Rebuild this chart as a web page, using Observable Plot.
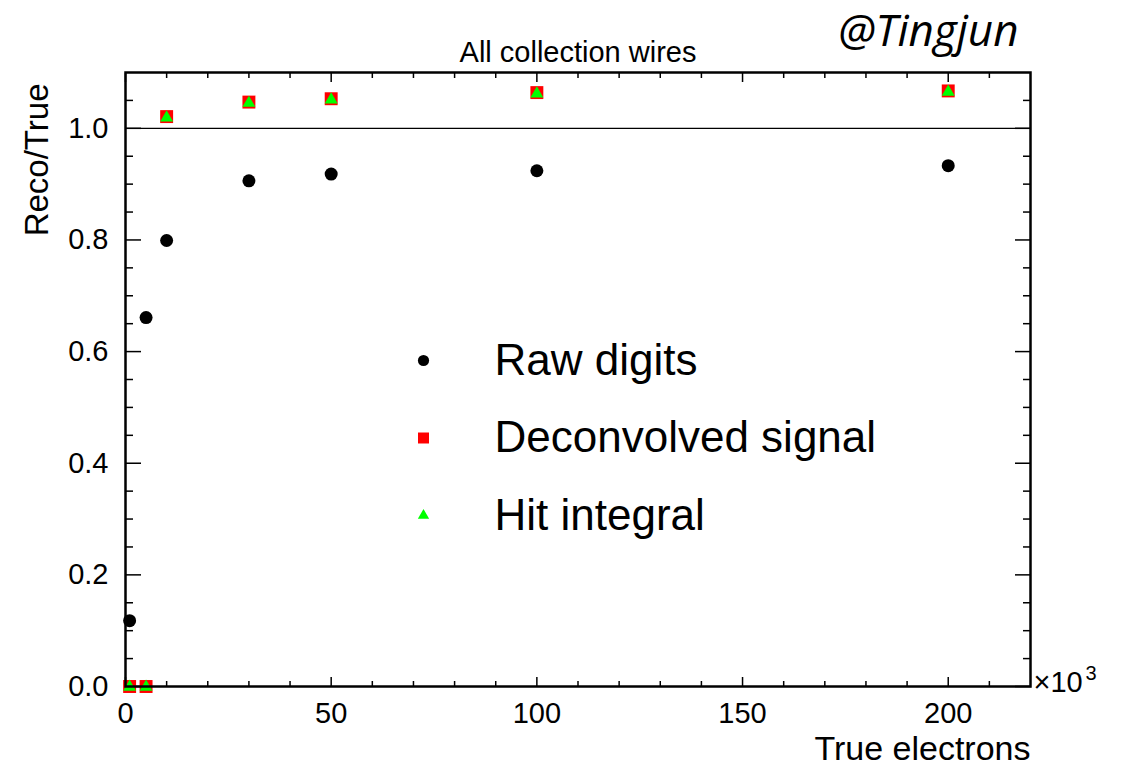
<!DOCTYPE html>
<html>
<head>
<meta charset="utf-8">
<script src="https://cdn.jsdelivr.net/npm/d3@7"></script>
<script src="https://cdn.jsdelivr.net/npm/@observablehq/plot@0.6"></script>
<style>
  html, body { margin: 0; padding: 0; background: #fff; }
  #chart { width: 1125px; height: 765px; }
</style>
</head>
<body>
<div id="chart"></div>
<script>
// ---- data ----
const trueElectrons = [1, 5, 10, 30, 50, 100, 200]; // x10^3
const rawDigits = [0.118, 0.661, 0.799, 0.906, 0.918, 0.924, 0.933];
const deconvolved = [0, 0, 1.021, 1.047, 1.053, 1.064, 1.067];
const hitIntegral = [0, 0, 1.020, 1.046, 1.052, 1.063, 1.066];

const xMajorTicks = [0, 50, 100, 150, 200];
const xMinorTicks = [10, 20, 30, 40, 60, 70, 80, 90, 110, 120, 130, 140, 160, 170, 180, 190, 210];
const yMajorTicks = [0, 0.2, 0.4, 0.6, 0.8, 1.0];
const yMinorTicks = [0.05, 0.1, 0.15, 0.25, 0.3, 0.35, 0.45, 0.5, 0.55, 0.65, 0.7, 0.75, 0.85, 0.9, 0.95, 1.05];

const legendLabels = ["Raw digits", "Deconvolved signal", "Hit integral"];

const rows = trueElectrons.map((x, i) => ({x, raw: rawDigits[i], dec: deconvolved[i], hit: hitIntegral[i]}));

const font = "'Liberation Sans', Arial, Helvetica, sans-serif";
const legendStyle = [
  {symbol: "circle", fill: "#000000", r: 5.6},
  {symbol: "square", fill: "#ff0000", r: 6.2},
  {symbol: "triangle", fill: "#00ff00", r: 4.2}
];
const legendDx = 298, legendDy0 = 288, legendStep = 77.5, legendTextDx = 369;

function ticks(anchor, values, len) {
  const o = {ticks: values, tickSize: len, text: null, label: null, strokeWidth: 1.5, stroke: "#000"};
  if (anchor === "bottom") return Plot.axisX({...o, anchor, insetBottom: len});
  if (anchor === "top") return Plot.axisX({...o, anchor, insetTop: len});
  if (anchor === "left") return Plot.axisY({...o, anchor, insetLeft: len});
  return Plot.axisY({...o, anchor, insetRight: len});
}

const chart = Plot.plot({
  width: 1125,
  height: 765,
  marginLeft: 125,
  marginRight: 95,
  marginTop: 72,
  marginBottom: 79,
  style: {fontFamily: font, background: "#fff", overflow: "visible"},
  x: {domain: [0, 220]},
  y: {domain: [0, 1.1]},
  marks: [
    Plot.ruleY([1], {stroke: "#000", strokeWidth: 1.2}),
    // inward ticks
    ticks("bottom", xMajorTicks, 9), ticks("bottom", xMinorTicks, 5),
    ticks("top", xMajorTicks, 9), ticks("top", xMinorTicks, 5),
    ticks("left", yMajorTicks, 16), ticks("left", yMinorTicks, 8),
    ticks("right", yMajorTicks, 16), ticks("right", yMinorTicks, 8),
    // tick labels
    Plot.axisX({anchor: "bottom", ticks: xMajorTicks, tickSize: 0, tickPadding: 16, fontSize: 29,
      tickFormat: d => String(d), label: null, fill: "#000"}),
    Plot.axisY({anchor: "left", ticks: yMajorTicks, tickSize: 0, tickPadding: 17, fontSize: 29,
      tickFormat: d => d.toFixed(1), label: null, fill: "#000"}),
    // axis titles
    Plot.text(["True electrons"], {frameAnchor: "bottom-right", textAnchor: "end", lineAnchor: "bottom",
      dy: 73, fontSize: 34, fill: "#000"}),
    Plot.text(["Reco/True"], {frameAnchor: "top-left", textAnchor: "end", lineAnchor: "middle",
      rotate: -90, dx: -88, dy: 11, fontSize: 33, fill: "#000"}),
    Plot.text(["×10"], {frameAnchor: "bottom-right", textAnchor: "start", lineAnchor: "bottom",
      dx: 3, dy: 5, fontSize: 29, fill: "#000"}),
    Plot.text(["3"], {frameAnchor: "bottom-right", textAnchor: "start", lineAnchor: "bottom",
      dx: 55, dy: -7, fontSize: 20, fill: "#000"}),
    // title and watermark
    Plot.text(["All collection wires"], {frameAnchor: "top", lineAnchor: "bottom", dy: -11, dx: 0,
      fontSize: 29, fill: "#000"}),
    Plot.text(["@Tingjun"], {frameAnchor: "top-right", textAnchor: "end", lineAnchor: "bottom", dy: -27, dx: -12,
      fontSize: 44, fontStyle: "italic", fontFamily: "'Open Sans', 'Noto Sans', sans-serif", fill: "#000"}),
    // data
    Plot.dot(rows, {x: "x", y: "raw", symbol: "circle", r: 6.5, fill: "#000", stroke: null}),
    Plot.dot(rows, {x: "x", y: "dec", symbol: "square", r: 7.3, fill: "#ff0000", stroke: null}),
    Plot.dot(rows, {x: "x", y: "hit", symbol: "triangle", r: 4.8, dy: 0.5, fill: "#00ff00", stroke: null}),
    // legend
    legendLabels.map((label, i) => Plot.dot([label], {frameAnchor: "top-left", dx: legendDx, dy: legendDy0 + i * legendStep,
      symbol: legendStyle[i].symbol, fill: legendStyle[i].fill, r: legendStyle[i].r, stroke: null})),
    legendLabels.map((label, i) => Plot.text([label], {frameAnchor: "top-left", textAnchor: "start", lineAnchor: "middle",
      dx: legendTextDx, dy: legendDy0 + i * legendStep, fontSize: 44, fill: "#000"})),
    Plot.frame({stroke: "#000", strokeWidth: 2.5})
  ]
});
document.getElementById("chart").appendChild(chart);
</script>
</body>
</html>
